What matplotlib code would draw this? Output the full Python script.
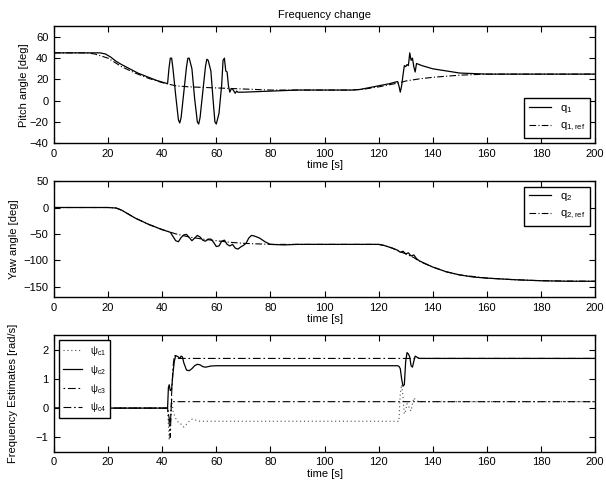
import numpy as np
import matplotlib.pyplot as plt

plt.rcParams['font.family'] = ['Liberation Sans', 'DejaVu Sans']
plt.rcParams['font.size'] = 8
plt.rcParams['mathtext.fontset'] = 'custom'
plt.rcParams['mathtext.rm'] = 'Liberation Sans'
plt.rcParams['mathtext.it'] = 'Liberation Sans'

# -----------------------------
# pitch angle (q1) and reference
# -----------------------------
t_q1 = [0, 10, 17, 19, 21, 23, 25, 28, 31, 35, 38, 42,
        42.5, 43, 43.5, 44, 45, 46, 46.5, 47, 48, 49, 49.5, 50, 51, 52, 53, 53.5, 54, 55,
        56, 56.5, 57, 58, 59, 59.5, 60, 61, 62, 62.5, 63, 63.5, 64, 64.5, 65, 65.5, 66,
        66.5, 67, 67.5, 68, 69, 70, 75, 80, 90, 100, 110, 113, 116, 120, 124, 127,
        127.5, 128, 128.5, 129, 129.5, 130, 130.5, 131, 131.5, 132, 132.5, 133, 133.5,
        134, 136, 140, 145, 150, 155, 160, 170, 180, 190, 200]
q1 = [45, 45, 45, 44, 41, 37, 34, 30, 26, 22, 19, 16,
      30, 40, 40, 30, 5, -18, -21, -16, 8, 32, 40, 40, 30, 2, -20, -22, -16, 8,
      32, 39, 38, 28, -5, -20, -22, -12, 15, 38, 40, 28, 27, 14, 8, 11, 11,
      9, 7, 9, 8, 8, 8, 8.5, 9, 10, 10, 10, 10.5, 12, 14, 16, 18,
      14, 8, 14, 24, 33, 32, 34, 33, 45, 38, 40, 32, 27,
      35, 33, 30, 28, 26, 25.5, 25, 25, 25, 25, 25]
t_q1ref = [0, 12, 15, 20, 25, 30, 35, 40, 45, 50, 60, 70, 80, 90, 100, 110, 115,
           120, 125, 128, 130, 135, 140, 145, 150, 155, 160, 180, 200]
q1_ref = [45, 45, 44, 40, 32, 26, 21, 17, 14, 13, 12, 11, 10, 10, 10, 10, 11,
          13, 15.5, 17, 18.5, 20.5, 22, 23, 24, 24.5, 25, 25, 25]

# -----------------------------
# yaw angle (q2) and reference
# -----------------------------
t_q2 = [0, 20, 23, 25, 30, 35, 40, 43, 44, 45, 46, 47, 48, 49, 50, 51, 52, 53,
        54, 55, 56, 57, 58, 59, 60, 61, 62, 63, 64, 65, 66, 67, 68, 69, 70, 71,
        72, 73, 74, 76, 78, 80, 85, 90, 100, 110, 120, 122, 125, 127, 128, 129,
        130, 131, 132, 133, 134, 135, 137, 140, 145, 150, 155, 160, 170, 180, 190, 200]
q2 = [0, 0, -1, -5, -20, -32, -42, -47, -55, -63, -65, -57, -52, -51, -57, -63,
      -58, -53, -56, -62, -64, -60, -60, -66, -74, -73, -64, -62, -70, -73, -70,
      -77, -79, -75, -72, -68, -58, -53, -54, -58, -65, -70, -71, -70, -70, -70,
      -70, -72, -77, -81, -85, -83, -88, -86, -92, -90, -97, -101, -106, -113,
      -122, -128, -132, -134, -137, -139, -140, -140]
t_q2ref = [0, 20, 23, 25, 30, 35, 40, 45, 50, 55, 60, 65, 70, 75, 80, 90, 100,
           110, 120, 122, 125, 128, 130, 133, 135, 140, 145, 150, 160, 170, 180, 200]
q2_ref = [0, 0, -1, -5, -20, -32, -42, -50, -56, -60, -63, -66, -68, -69, -70,
          -70, -70, -70, -70, -72, -77, -84, -88, -95, -102, -113, -122, -128,
          -134, -137, -139, -140]

# -----------------------------
# frequency estimates
# -----------------------------
t_p1 = [0, 42, 42.3, 42.6, 43, 43.5, 44, 45, 46, 47, 48, 49, 50, 51, 52, 54, 56,
        60, 80, 100, 120, 127.5, 128, 128.5, 129, 129.5, 130, 130.5, 131, 131.5,
        132, 132.5, 133, 134, 135, 140, 200]
psi1 = [0, 0, -0.6, -1.1, -0.4, 0.3, -0.1, -0.35, -0.5, -0.55, -0.65, -0.55,
        -0.45, -0.38, -0.4, -0.45, -0.45, -0.45, -0.45, -0.45, -0.45, -0.45, 0.5,
        0.8, 0.4, -0.2, -0.1, 0.15, 0.1, -0.05, -0.1, 0.15, 0.35, 0.25, 0.22, 0.22, 0.22]
t_p2 = [0, 42, 42.3, 42.6, 43, 43.5, 44, 44.5, 45, 46, 46.5, 47, 47.5, 48, 49, 50,
        51, 52, 53, 54, 55, 56, 57, 58, 60, 80, 100, 120, 127, 127.5, 128, 128.5,
        129, 129.5, 130, 130.5, 131, 131.5, 132, 132.5, 133, 133.5, 134, 135, 136, 200]
psi2 = [0, 0, 0.7, 0.8, 0.6, 0.65, 1.2, 1.6, 1.8, 1.75, 1.7, 1.78, 1.75, 1.55,
        1.3, 1.28, 1.35, 1.45, 1.5, 1.48, 1.42, 1.4, 1.42, 1.44, 1.45, 1.45, 1.45,
        1.45, 1.45, 1.43, 1.35, 1.0, 0.75, 0.8, 1.6, 1.9, 1.85, 1.75, 1.45, 1.4,
        1.6, 1.78, 1.75, 1.7, 1.7, 1.7]
t_p3 = [0, 42, 42.5, 43, 43.5, 44, 44.5, 46, 200]
psi3 = [0, 0, -0.4, -1.0, 0.5, 1.4, 1.8, 1.7, 1.7]
t_p4 = [0, 42, 42.5, 43, 43.5, 44, 200]
psi4 = [0, 0, -0.3, -0.6, 0.3, 0.22, 0.22]

xticks = np.arange(0, 201, 20)
ref_ls = (0, (6, 2, 1, 2))

fig = plt.figure(figsize=(6.06, 4.87), dpi=100)
ax1 = fig.add_axes([0.089, 0.706, 0.893, 0.240])
ax2 = fig.add_axes([0.089, 0.390, 0.893, 0.238])
ax3 = fig.add_axes([0.089, 0.072, 0.893, 0.240])

ax1.plot(t_q1, q1, 'k-', lw=0.9, label='$\\mathregular{q_1}$')
ax1.plot(t_q1ref, q1_ref, 'k', ls=ref_ls, lw=0.8, label='$\\mathregular{q_{1,ref}}$')
ax1.set_ylim(-40, 70)
ax1.set_yticks([-40, -20, 0, 20, 40, 60])
ax1.set_ylabel('Pitch angle [deg]')
ax1.yaxis.set_label_coords(-0.046, 0.5)
ax1.set_title('Frequency change', fontsize=8, pad=6)
ax1.legend(loc='lower right')

ax2.plot(t_q2, q2, 'k-', lw=0.9, label='$\\mathregular{q_2}$')
ax2.plot(t_q2ref, q2_ref, 'k', ls=ref_ls, lw=0.8, label='$\\mathregular{q_{2,ref}}$')
ax2.set_ylim(-170, 50)
ax2.set_yticks([-150, -100, -50, 0, 50])
ax2.set_ylabel('Yaw angle [deg]')
ax2.yaxis.set_label_coords(-0.064, 0.5)
ax2.legend(loc='upper right')

ax3.plot(t_p1, psi1, color='0.3', ls=(0, (1, 2.5)), lw=0.8, label='$\\mathregular{\\psi_{c1}}$')
ax3.plot(t_p2, psi2, 'k-', lw=0.9, label='$\\mathregular{\\psi_{c2}}$')
ax3.plot(t_p3, psi3, 'k', ls=(0, (1.5, 2.5, 7, 2.5)), lw=0.8, label='$\\mathregular{\\psi_{c3}}$')
ax3.plot(t_p4, psi4, 'k', ls=(0, (7, 2.5, 1.5, 2.5)), lw=0.8, label='$\\mathregular{\\psi_{c4}}$')
ax3.set_ylim(-1.5, 2.5)
ax3.set_yticks([-1, 0, 1, 2])
ax3.set_ylabel('Frequency Estimates [rad/s]')
ax3.yaxis.set_label_coords(-0.066, 0.5)
ax3.legend(loc='upper left', fontsize=7)

for ax in (ax1, ax2, ax3):
    ax.set_xlim(0, 200)
    ax.set_xticks(xticks)
    ax.set_xlabel('time [s]', labelpad=1)
    ax.tick_params(direction='in', top=True, right=True, length=4, width=0.8, pad=4)
    for s in ax.spines.values():
        s.set_linewidth(1.0)
    leg = ax.get_legend()
    leg.get_frame().set_edgecolor('black')
    leg.get_frame().set_linewidth(1.0)
    leg.get_frame().set_boxstyle('square', pad=0)
    leg.get_frame().set_alpha(1)

fig.savefig('out.png', dpi=100)
